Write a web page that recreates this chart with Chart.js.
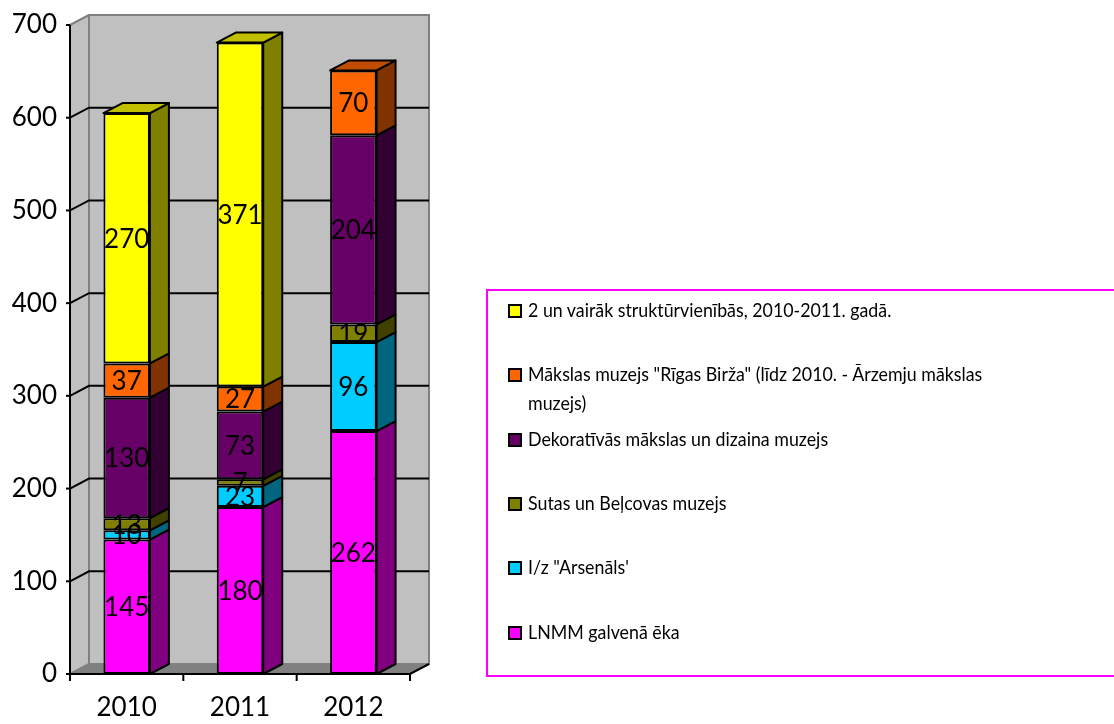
<!DOCTYPE html>
<html>
<head>
<meta charset="utf-8">
<script src="https://cdn.jsdelivr.net/npm/chart.js@4"></script>
<style>
  body { margin: 0; background: #fff; overflow: hidden; }
  #wrap { position: relative; width: 1114px; height: 724px; overflow: hidden; }
  #chart { position: absolute; left: 0; top: 0; }
  #legend {
    position: absolute; left: 486px; top: 289px; width: 640px; height: 384px;
    border: 2px solid #ff00ff; box-sizing: content-box;
    font-family: Lato, "Liberation Sans", sans-serif; font-size: 20px; color: #000;
  }
  .item { position: absolute; left: 20px; width: 600px; line-height: 29px; }
  .item .sw { position: absolute; left: 0; top: 9px; width: 10px; height: 10px; border: 2px solid #000; }
  .item .tx { margin-left: 20px; width: 560px; transform: scaleX(0.89); transform-origin: 0 0; }
</style>
</head>
<body>
<div id="wrap">
  <canvas id="chart" width="1114" height="724"></canvas>
  <div id="legend"></div>
</div>
<script>
// Gadi un sērijas (no apakšas uz augšu)
const years = ['2010', '2011', '2012'];
const seriesNames = [
    'LNMM galvenā ēka',
    'I/z "Arsenāls\'',
    'Sutas un Beļcovas muzejs',
    'Dekoratīvās mākslas un dizaina muzejs',
    'Mākslas muzejs "Rīgas Birža" (līdz 2010. - Ārzemju mākslas muzejs)',
    '2 un vairāk struktūrvienībās, 2010-2011. gadā.'
];
const lnmm = [145, 180, 262];
const arsenals = [10, 23, 96];
const sutas = [13, 7, 19];
const dekor = [130, 73, 204];
const birza = [37, 27, 70];
const vairak = [270, 371, 0];
const yTicks = [0, 100, 200, 300, 400, 500, 600, 700];

const frontColors = ['#ff00ff', '#00ccff', '#808000', '#660066', '#ff6600', '#ffff00'];
const sideColors  = ['#800080', '#006680', '#404000', '#330033', '#803300', '#808000'];
const topColors   = ['#c000c0', '#0099c0', '#606000', '#4d004d', '#c04d00', '#c0c000'];

const DX = 19, DY = 10;
const FONT = 'Lato, "Liberation Sans", sans-serif';

const allValues = [lnmm, arsenals, sutas, dekor, birza, vairak];

const walls3d = {
    id: 'walls3d',
    beforeDatasetsDraw(chart) {
        const {ctx, chartArea: a, scales: {y}} = chart;
        const y0 = y.getPixelForValue(0), yMax = y.getPixelForValue(yTicks[yTicks.length - 1]);
        ctx.save();
        // back wall + left wall
        ctx.fillStyle = '#c0c0c0';
        ctx.fillRect(a.left + DX, yMax - DY, a.right - a.left, y0 - yMax);
        ctx.beginPath();
        ctx.moveTo(a.left, yMax); ctx.lineTo(a.left + DX, yMax - DY);
        ctx.lineTo(a.left + DX, y0 - DY); ctx.lineTo(a.left, y0); ctx.closePath();
        ctx.fill();
        // floor
        ctx.beginPath();
        ctx.moveTo(a.left, y0); ctx.lineTo(a.left + DX, y0 - DY);
        ctx.lineTo(a.right + DX, y0 - DY); ctx.lineTo(a.right, y0); ctx.closePath();
        ctx.fillStyle = '#808080'; ctx.fill();
        // wall edges (gray)
        ctx.strokeStyle = '#808080'; ctx.lineWidth = 2;
        ctx.strokeRect(a.left + DX, yMax - DY, a.right - a.left, y0 - yMax);
        ctx.beginPath();
        ctx.moveTo(a.left, yMax); ctx.lineTo(a.left + DX, yMax - DY);
        ctx.moveTo(a.left, y0); ctx.lineTo(a.left + DX, y0 - DY);
        ctx.stroke();
        // gridlines
        ctx.strokeStyle = '#000';
        yTicks.forEach(v => {
            const py = y.getPixelForValue(v);
            if (v > 0 && v < yTicks[yTicks.length - 1]) {
                ctx.beginPath();
                ctx.moveTo(a.left, py); ctx.lineTo(a.left + DX, py - DY);
                ctx.lineTo(a.right + DX, py - DY);
                ctx.stroke();
            }
            ctx.beginPath(); ctx.moveTo(a.left - 4, py); ctx.lineTo(a.left, py); ctx.stroke();
        });
        // axes
        ctx.beginPath();
        ctx.moveTo(a.left, yMax); ctx.lineTo(a.left, y0); ctx.lineTo(a.right, y0);
        ctx.lineTo(a.right + DX, y0 - DY);
        ctx.stroke();
        for (let i = 0; i <= years.length; i++) {
            const px = a.left + (a.right - a.left) * i / years.length;
            ctx.beginPath(); ctx.moveTo(px, y0); ctx.lineTo(px, y0 + 7); ctx.stroke();
        }
        ctx.restore();
    },
    afterDatasetsDraw(chart) {
        const {ctx} = chart;
        ctx.save();
        ctx.strokeStyle = '#000'; ctx.lineWidth = 2; ctx.lineJoin = 'round';
        const topIdx = years.map((_, j) => {
            let t = -1;
            allValues.forEach((arr, i) => { if (arr[j]) t = i; });
            return t;
        });
        chart.data.datasets.forEach((ds, i) => {
            const meta = chart.getDatasetMeta(i);
            meta.data.forEach((el, j) => {
                if (!ds.data[j]) return;
                const r = el.x + el.width / 2, l = el.x - el.width / 2;
                const top = Math.min(el.y, el.base), bot = Math.max(el.y, el.base);
                ctx.beginPath();
                ctx.moveTo(r, top); ctx.lineTo(r + DX, top - DY);
                ctx.lineTo(r + DX, bot - DY); ctx.lineTo(r, bot); ctx.closePath();
                ctx.fillStyle = sideColors[i]; ctx.fill(); ctx.stroke();
                if (topIdx[j] === i) {
                    ctx.beginPath();
                    ctx.moveTo(l, top); ctx.lineTo(l + DX, top - DY);
                    ctx.lineTo(r + DX, top - DY); ctx.lineTo(r, top); ctx.closePath();
                    ctx.fillStyle = topColors[i]; ctx.fill(); ctx.stroke();
                }
            });
        });
        // data labels
        ctx.fillStyle = '#000';
        ctx.font = '26px ' + FONT;
        ctx.textAlign = 'center'; ctx.textBaseline = 'middle';
        chart.data.datasets.forEach((ds, i) => {
            chart.getDatasetMeta(i).data.forEach((el, j) => {
                if (!ds.data[j]) return;
                ctx.fillText(String(ds.data[j]), el.x, (el.y + el.base) / 2 + 1);
            });
        });
        ctx.restore();
    }
};

new Chart(document.getElementById('chart'), {
    type: 'bar',
    data: {
        labels: years,
        datasets: allValues.map((arr, i) => ({
            label: seriesNames[i],
            data: arr,
            backgroundColor: frontColors[i],
            borderColor: '#000',
            borderWidth: 2,
            borderSkipped: false,
            barPercentage: 0.41,
            categoryPercentage: 1
        }))
    },
    options: {
        responsive: false,
        animation: false,
        layout: {padding: {left: 0, right: 704, top: 25, bottom: 0}},
        plugins: {legend: {display: false}, tooltip: {enabled: false}},
        scales: {
            x: {
                stacked: true,
                grid: {display: false},
                border: {display: false},
                ticks: {color: '#000', font: {family: FONT, size: 26}, padding: 10},
                afterFit: s => { s.height = 50; }
            },
            y: {
                stacked: true,
                min: 0, max: 700,
                grid: {display: false},
                border: {display: false},
                ticks: {stepSize: 100, color: '#000', font: {family: FONT, size: 26}, padding: 5},
                afterFit: s => { s.width = 70; }
            }
        }
    },
    plugins: [walls3d]
});

// Leģenda (apgrieztā secībā kā oriģinālā)
const legendDiv = document.getElementById('legend');
let html = '';
for (let k = 0; k < seriesNames.length; k++) {
    const i = seriesNames.length - 1 - k;
    html += `<div class="item" style="top:${4 + k * 64.3}px"><span class="sw" style="background:${frontColors[i]}"></span><div class="tx">${seriesNames[i]}</div></div>`;
}
legendDiv.innerHTML = html;
</script>
</body>
</html>
